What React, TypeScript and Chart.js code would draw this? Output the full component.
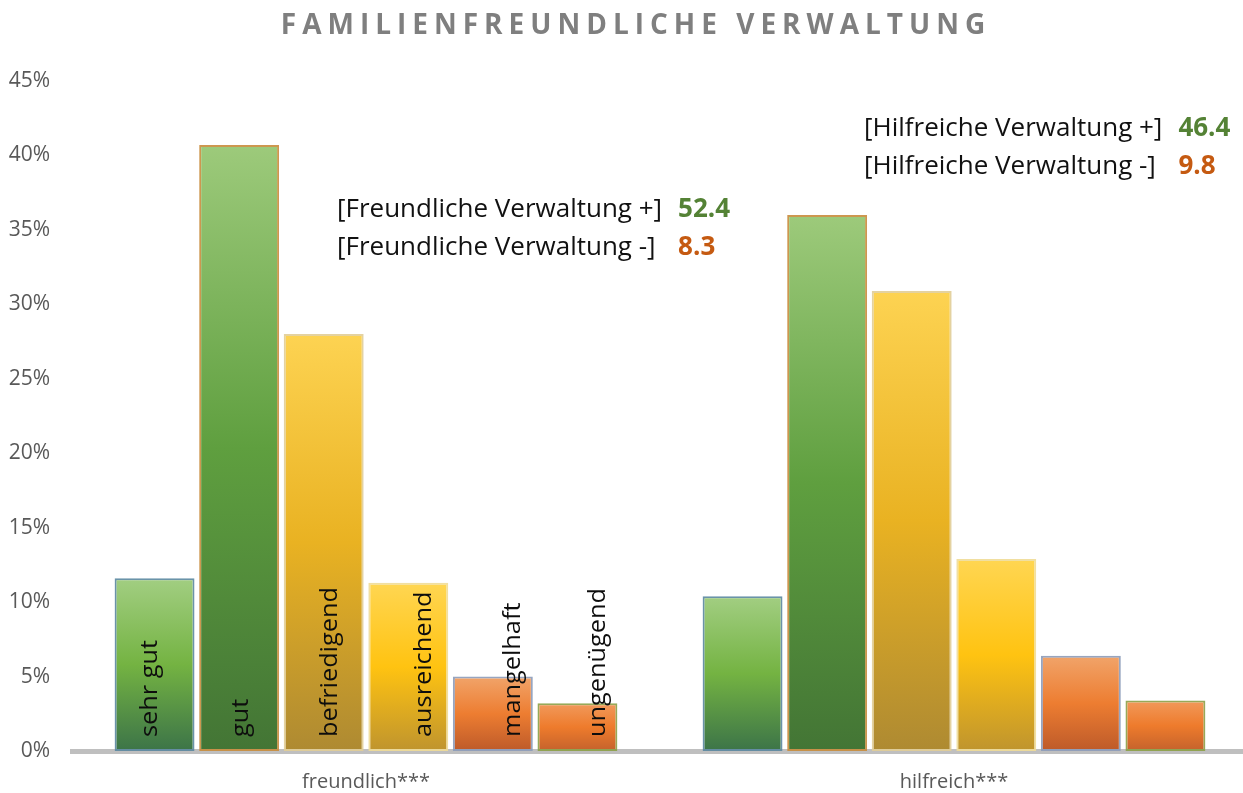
import React, { useEffect, useRef } from "react";
import { Chart, registerables } from "chart.js";

Chart.register(...registerables);

// ---------- data ----------
const categories = ["freundlich***", "hilfreich***"];
const ratingLabels = ["sehr gut", "gut", "befriedigend", "ausreichend", "mangelhaft", "ungenügend"];
const sehrGut = [11.6, 10.4];
const gut = [40.7, 36.0];
const befriedigend = [28.0, 30.9];
const ausreichend = [11.3, 12.9];
const mangelhaft = [5.0, 6.4];
const ungenuegend = [3.2, 3.4];
const yMax = 45;
const yStep = 5;

const summaryNames = ["Freundliche Verwaltung", "Hilfreiche Verwaltung"];
const positiveShares = [52.4, 46.4];
const negativeShares = [8.3, 9.8];

const TITLE = "FAMILIENFREUNDLICHE VERWALTUNG";

// ---------- styles ----------
const FONT = "'Open Sans', 'DejaVu Sans', sans-serif";
const gradients: string[][] = [
  ["#a2ce82", "#74b342", "#3c7448"],
  ["#9dca7b", "#5f9f3f", "#437535"],
  ["#fdd352", "#e9b222", "#ae8a32"],
  ["#ffd652", "#ffc311", "#bf942e"],
  ["#f1a46a", "#ed7d31", "#bd5a2a"],
  ["#f19a5c", "#ee7b2c", "#c4622c"],
];
const borders = [
  "rgba(90,135,160,0.9)",
  "rgba(200,140,60,0.9)",
  "rgba(225,205,150,0.9)",
  "rgba(240,220,150,0.9)",
  "rgba(140,155,185,0.9)",
  "rgba(140,160,70,0.9)",
];
const labelShift = [-0.05, 0.03, 0.09, 0.2, 0.26, 0.26];
const annotPos = [
  { x: 337, y: 210 },
  { x: 864, y: 129 },
];

const seriesValues = [sehrGut, gut, befriedigend, ausreichend, mangelhaft, ungenuegend];

const overlayPlugin = {
  id: "overlay",
  afterDatasetsDraw(chart: any) {
    const ctx = chart.ctx as CanvasRenderingContext2D;
    const yScale = chart.scales.y;
    const base = yScale.getPixelForValue(0);
    // rotated labels inside first category bars
    ctx.save();
    ctx.fillStyle = "#0d0d0d";
    ctx.font = `23px ${FONT}`;
    ratingLabels.forEach((lab, i) => {
      const meta = chart.getDatasetMeta(i);
      const bar = meta.data[0];
      if (!bar) return;
      const x = bar.x + labelShift[i] * bar.width;
      ctx.save();
      ctx.translate(x, base - 14);
      ctx.rotate(-Math.PI / 2);
      ctx.scale(1.1, 1);
      ctx.textAlign = "left";
      ctx.textBaseline = "middle";
      ctx.fillText(lab, 0, 0);
      ctx.restore();
    });
    ctx.restore();

    // summary annotations
    ctx.save();
    ctx.textBaseline = "middle";
    ctx.textAlign = "left";
    summaryNames.forEach((name, i) => {
      const p = annotPos[i];
      const rows: [string, number, string][] = [
        [`[${name} +]`, positiveShares[i], "#548235"],
        [`[${name} -]`, negativeShares[i], "#c55a11"],
      ];
      ctx.font = `26px ${FONT}`;
      const numX = p.x + ctx.measureText(rows[0][0]).width + 16;
      rows.forEach((r, k) => {
        const y = p.y + k * 38;
        ctx.font = `26px ${FONT}`;
        ctx.fillStyle = "#111111";
        ctx.fillText(r[0], p.x, y);
        ctx.font = `bold 26px ${FONT}`;
        ctx.fillStyle = r[2];
        ctx.fillText(r[1].toFixed(1), numX, y);
      });
    });
    ctx.restore();

    // title
    ctx.save();
    ctx.font = `bold 28px ${FONT}`;
    (ctx as any).letterSpacing = "6px";
    ctx.fillStyle = "#7f7f7f";
    ctx.textBaseline = "middle";
    ctx.textAlign = "left";
    const w = ctx.measureText(TITLE).width - 6;
    ctx.fillText(TITLE, 633 - w / 2, 26);
    ctx.restore();
  },
};

export default function App() {
  const ref = useRef<HTMLCanvasElement | null>(null);

  useEffect(() => {
    document.body.style.margin = "0";
    const canvas = ref.current!;
    const datasets = ratingLabels.map((lab, i) => ({
      label: lab,
      data: seriesValues[i],
      backgroundColor: (c: any) => {
        const chart = c.chart;
        const stops = gradients[i];
        if (!chart.chartArea || c.type !== "data") return stops[1];
        const ys = chart.scales.y;
        const top = ys.getPixelForValue(c.raw);
        const bottom = ys.getPixelForValue(0);
        const g = chart.ctx.createLinearGradient(0, top, 0, bottom);
        g.addColorStop(0, stops[0]);
        g.addColorStop(0.5, stops[1]);
        g.addColorStop(1, stops[2]);
        return g;
      },
      borderColor: borders[i],
      borderWidth: 2,
      borderSkipped: false,
      categoryPercentage: 0.863,
      barPercentage: 0.945,
    }));

    const chart = new Chart(canvas, {
      type: "bar",
      data: { labels: categories, datasets },
      options: {
        animation: false,
        responsive: false,
        maintainAspectRatio: false,
        layout: { padding: { top: 81, right: 0, left: 0, bottom: 0 } },
        plugins: {
          legend: { display: false },
          title: { display: false },
          tooltip: { enabled: false },
        },
        scales: {
          x: {
            grid: { display: false, drawTicks: false },
            border: { display: true, color: "#bfbfbf", width: 5 },
            ticks: {
              color: "#595959",
              font: { family: FONT, size: 20 },
              padding: 19,
            },
            afterFit: (s: any) => {
              s.height = 42;
            },
          },
          y: {
            min: 0,
            max: yMax,
            grid: { display: false, drawTicks: false },
            border: { display: false },
            ticks: {
              stepSize: yStep,
              color: "#595959",
              font: { family: FONT, size: 21 },
              padding: 22,
              callback: (v: any) => `${v}%`,
            },
            afterFit: (s: any) => {
              s.width = 72;
            },
          },
        },
      },
      plugins: [overlayPlugin],
    });
    return () => chart.destroy();
  }, []);

  return (
    <div style={{ width: 1243, height: 793, overflow: "hidden", position: "relative" }}>
      <canvas ref={ref} width={1248} height={793} style={{ display: "block" }} />
    </div>
  );
}
